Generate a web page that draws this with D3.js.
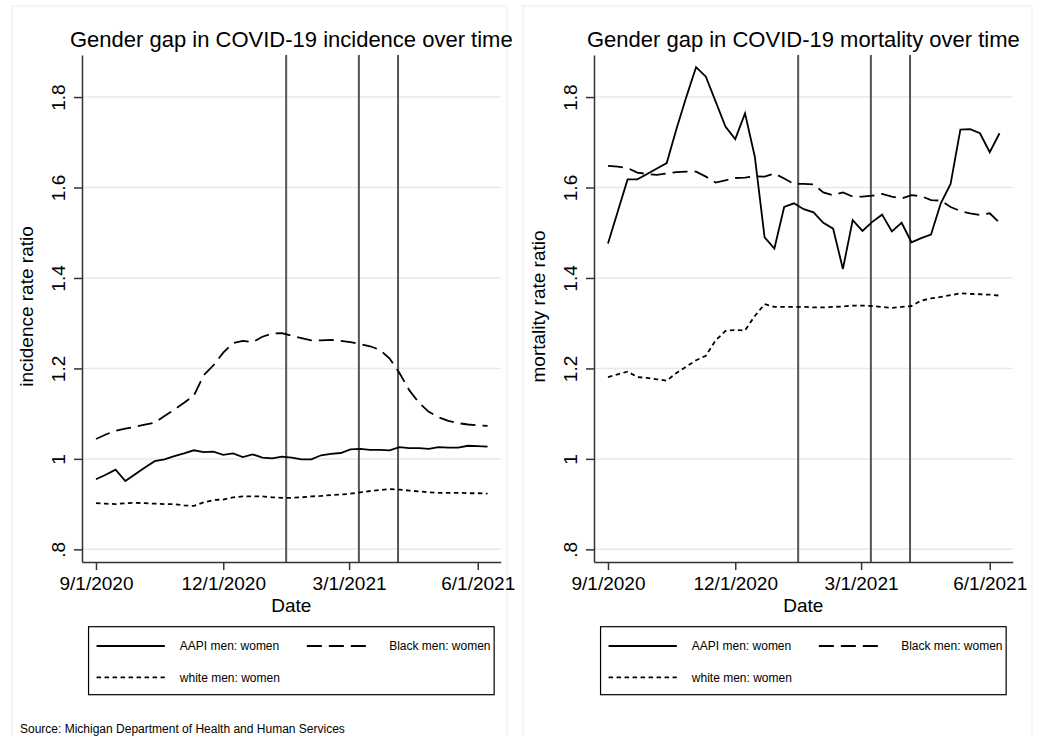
<!DOCTYPE html>
<html>
<head>
<meta charset="utf-8">
<script src="https://d3js.org/d3.v7.min.js"></script>
<style>
  body { margin: 0; background: #fff; }
  text { font-family: "Liberation Sans", Arial, Helvetica, sans-serif; fill: #000; }
</style>
</head>
<body>
<script>
// weekly reporting dates
var dates = ["2020-09-01","2020-09-08","2020-09-15","2020-09-22","2020-09-29",
  "2020-10-06","2020-10-13","2020-10-20","2020-10-27",
  "2020-11-03","2020-11-10","2020-11-17","2020-11-24",
  "2020-12-01","2020-12-08","2020-12-15","2020-12-22","2020-12-29",
  "2021-01-05","2021-01-12","2021-01-19","2021-01-26",
  "2021-02-02","2021-02-09","2021-02-16","2021-02-23",
  "2021-03-02","2021-03-09","2021-03-16","2021-03-23","2021-03-30",
  "2021-04-06","2021-04-13","2021-04-20","2021-04-27",
  "2021-05-04","2021-05-11","2021-05-18","2021-05-25",
  "2021-06-01","2021-06-08"];

// incidence rate ratios (men : women)
var incAapi = [0.955,0.965,0.976,0.951,0.966,0.981,0.995,0.999,1.006,1.012,
  1.019,1.015,1.016,1.009,1.012,1.004,1.010,1.003,1.001,1.005,
  1.003,0.999,0.999,1.008,1.011,1.013,1.021,1.022,1.020,1.020,
  1.019,1.026,1.024,1.024,1.022,1.026,1.025,1.025,1.029,1.028,1.027];
var incBlack = [1.044,1.054,1.062,1.067,1.071,1.076,1.080,1.095,1.109,1.124,
  1.140,1.185,1.207,1.235,1.256,1.261,1.258,1.270,1.277,1.278,
  1.272,1.267,1.262,1.262,1.263,1.261,1.258,1.254,1.249,1.241,
  1.222,1.190,1.152,1.124,1.104,1.092,1.084,1.079,1.076,1.074,1.073];
var incWhite = [0.902,0.901,0.900,0.902,0.903,0.902,0.901,0.900,0.900,0.897,
  0.896,0.904,0.909,0.910,0.915,0.917,0.917,0.917,0.915,0.914,
  0.914,0.915,0.917,0.918,0.920,0.921,0.923,0.926,0.929,0.931,
  0.933,0.932,0.930,0.928,0.926,0.925,0.925,0.925,0.924,0.924,0.923];

// mortality rate ratios (men : women)
var morAapi = [1.476,1.547,1.618,1.618,1.630,1.642,1.654,1.730,1.800,1.866,
  1.845,1.790,1.735,1.707,1.764,1.668,1.490,1.465,1.557,1.565,
  1.552,1.545,1.522,1.509,1.420,1.528,1.504,1.524,1.540,1.503,
  1.522,1.479,1.488,1.496,1.565,1.608,1.728,1.729,1.720,1.678,1.720];
var morBlack = [1.648,1.646,1.643,1.633,1.630,1.628,1.631,1.634,1.635,1.635,
  1.624,1.611,1.616,1.621,1.622,1.625,1.624,1.631,1.620,1.608,
  1.608,1.607,1.589,1.583,1.589,1.580,1.580,1.582,1.586,1.580,
  1.576,1.583,1.581,1.572,1.571,1.557,1.548,1.543,1.539,1.543,1.522];
var morWhite = [1.181,1.187,1.193,1.181,1.179,1.176,1.173,1.190,1.204,1.218,
  1.228,1.262,1.283,1.285,1.284,1.316,1.342,1.336,1.336,1.336,
  1.336,1.335,1.335,1.336,1.337,1.339,1.339,1.338,1.336,1.334,
  1.336,1.338,1.350,1.355,1.358,1.362,1.366,1.365,1.364,1.363,1.361];

var seriesNames = ["AAPI men: women", "Black men: women", "white men: women"];
var xTicks = ["2020-09-01","2020-12-01","2021-03-01","2021-06-01"];
var xTickLabels = ["9/1/2020","12/1/2020","3/1/2021","6/1/2021"];
var yTicks = [0.8, 1, 1.2, 1.4, 1.6, 1.8];
var yTickLabels = [".8","1","1.2","1.4","1.6","1.8"];
var eventDates = ["2021-01-15","2021-03-08","2021-04-05"];

var width = 1039, height = 736;
var parse = d3.timeParse("%Y-%m-%d");

var dashes = [null, "15,7", "4.5,3.5"];

var svg = d3.select("body").append("svg")
    .attr("width", width)
    .attr("height", height);

svg.append("rect").attr("width", width).attr("height", height).attr("fill", "#fff");

var panels = [
  {title: "Gender gap in COVID-19 incidence over time", ylab: "incidence rate ratio",
   series: [incAapi, incBlack, incWhite], left: 82, frame: [12, 6, 495, 740]},
  {title: "Gender gap in COVID-19 mortality over time", ylab: "mortality rate ratio",
   series: [morAapi, morBlack, morWhite], left: 594, frame: [523, 6, 509, 740]}
];

var plotW = 418.7, plotTop = 55, plotBottom = 562;

panels.forEach(drawPanel);

svg.append("text")
    .attr("x", 20).attr("y", 733)
    .style("font-size", "12px")
    .attr("fill", "#222")
    .text("Source: Michigan Department of Health and Human Services");

function drawPanel(p) {
  // faint subgraph frame
  svg.append("rect")
      .attr("x", p.frame[0]).attr("y", p.frame[1])
      .attr("width", p.frame[2]).attr("height", p.frame[3])
      .attr("fill", "none").attr("stroke", "#ececec");

  var x = d3.scaleTime()
      .domain([parse("2020-08-22"), new Date(2021, 5, 17, 10)])
      .range([p.left, p.left + plotW]);
  var y = d3.scaleLinear()
      .domain([0.772, 1.893])
      .range([plotBottom, plotTop]);

  var g = svg.append("g");

  // gridlines
  g.selectAll(".grid").data(yTicks).enter().append("line")
      .attr("x1", p.left).attr("x2", p.left + plotW)
      .attr("y1", function(d) { return y(d); })
      .attr("y2", function(d) { return y(d); })
      .attr("stroke", "#e8e8e8").attr("stroke-width", 1.5);

  // event lines
  g.selectAll(".event").data(eventDates).enter().append("line")
      .attr("x1", function(d) { return x(parse(d)); })
      .attr("x2", function(d) { return x(parse(d)); })
      .attr("y1", plotTop).attr("y2", plotBottom)
      .attr("stroke", "#555").attr("stroke-width", 2);

  // series
  var line = d3.line()
      .x(function(d, i) { return x(parse(dates[i])); })
      .y(function(d) { return y(d); });

  p.series.forEach(function(s, k) {
    g.append("path")
        .datum(s)
        .attr("d", line)
        .attr("fill", "none")
        .attr("stroke", "#000")
        .attr("stroke-width", 1.8)
        .attr("stroke-dasharray", dashes[k]);
  });

  // y axis
  var yAxis = g.append("g")
      .attr("transform", "translate(" + p.left + ",0)")
      .call(d3.axisLeft(y).tickValues(yTicks)
        .tickFormat(function(d, i) { return yTickLabels[i]; })
        .tickSize(8).tickSizeOuter(0));
  yAxis.selectAll(".tick text")
      .attr("transform", "rotate(-90)")
      .attr("x", 0).attr("y", -17).attr("dy", 0)
      .style("text-anchor", "middle")
      .style("font-size", "19px");

  // x axis
  var xAxis = g.append("g")
      .attr("transform", "translate(0," + plotBottom + ")")
      .call(d3.axisBottom(x).tickValues(xTicks.map(parse))
        .tickFormat(function(d, i) { return xTickLabels[i]; })
        .tickSize(8).tickSizeOuter(0));
  xAxis.selectAll(".tick text")
      .attr("y", 28).attr("dy", 0)
      .style("font-size", "19px");

  [yAxis, xAxis].forEach(function(a) {
    a.select(".domain").attr("stroke", "#333").attr("stroke-width", 1.5);
    a.selectAll(".tick line").attr("stroke", "#333").attr("stroke-width", 1.5);
    a.selectAll("text").attr("fill", "#000").style("font-family", '"Liberation Sans", Arial, sans-serif');
  });

  var cx = p.left + plotW / 2;

  g.append("text")
      .attr("x", cx).attr("y", 47)
      .attr("text-anchor", "middle")
      .style("font-size", "22px")
      .text(p.title);

  g.append("text")
      .attr("transform", "translate(" + (p.left - 49) + "," + ((plotTop + plotBottom) / 2 - 2) + ")rotate(-90)")
      .attr("text-anchor", "middle")
      .style("font-size", "19px")
      .text(p.ylab);

  g.append("text")
      .attr("x", cx).attr("y", 612)
      .attr("text-anchor", "middle")
      .style("font-size", "19px")
      .text("Date");

  // legend
  var bl = cx - 202.8;
  var lg = g.append("g").attr("transform", "translate(" + bl + ",626.7)");
  lg.append("rect")
      .attr("width", 405.6).attr("height", 68)
      .attr("fill", "#fff").attr("stroke", "#000").attr("stroke-width", 1.2);

  var items = [
    {k: 0, sx: 8, ex: 76.3, tx: 91.3, row: 19.3},
    {k: 1, sx: 218.3, ex: 280.3, tx: 300.6, row: 19.3},
    {k: 2, sx: 8, ex: 76.3, tx: 91.3, row: 50.6}
  ];
  items.forEach(function(it) {
    lg.append("line")
        .attr("x1", it.sx).attr("x2", it.ex)
        .attr("y1", it.row).attr("y2", it.row)
        .attr("stroke", "#000").attr("stroke-width", 1.8)
        .attr("stroke-dasharray", dashes[it.k]);
    lg.append("text")
        .attr("x", it.tx).attr("y", it.row + 4.3)
        .style("font-size", "12px")
        .attr("fill", "#222")
        .text(seriesNames[it.k]);
  });
}
</script>
</body>
</html>
